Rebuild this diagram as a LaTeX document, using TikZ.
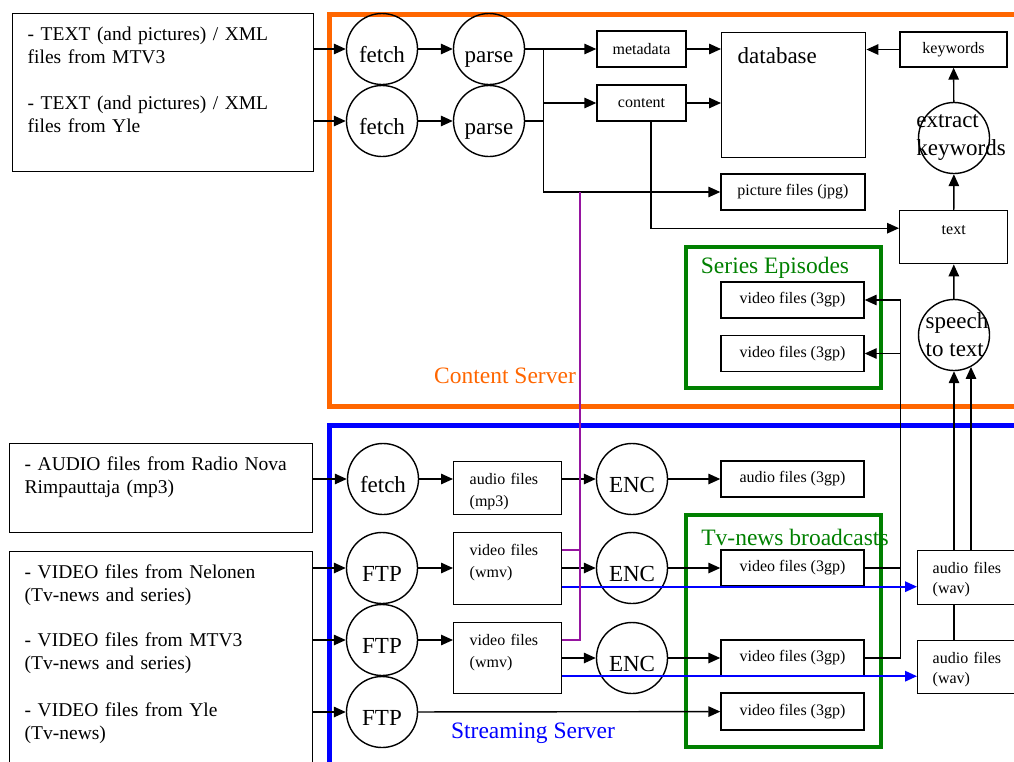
\documentclass[tikz,border=0pt]{standalone}
\usepackage{fontspec}
\setmainfont{Liberation Serif}
\usepackage{tikz}
\usetikzlibrary{arrows.meta, calc}

\definecolor{csorange}{RGB}{255,102,0}
\definecolor{ssblue}{RGB}{0,0,255}
\definecolor{grpgreen}{RGB}{0,128,0}
\definecolor{linkpurple}{RGB}{150,20,160}

\begin{document}
\begin{tikzpicture}[x=1pt, y=-1pt, line width=1.4pt,
    >={Triangle[length=12pt,width=10.5pt]},
    procfont/.style={font=\fontsize{23}{28}\selectfont},
    proc/.style={circle, draw, minimum size=71pt, inner sep=0pt, procfont,
        text height=26pt, text depth=0pt},
    filebox/.style={draw, minimum width=143pt, minimum height=36pt, inner sep=0pt,
        font=\fontsize{16}{20}\selectfont},
    topbox/.style={draw, anchor=north west, align=left, inner xsep=16pt, inner ysep=12pt,
        text height=11pt, font=\fontsize{16}{22}\selectfont},
    srcbox/.style={draw, anchor=north west, align=left, inner xsep=15pt, inner ysep=13pt,
        text height=13.5pt, font=\fontsize{19.5}{23}\selectfont},
    server/.style={line width=5pt},
    grpbox/.style={draw=grpgreen, line width=4pt},
    areatitle/.style={font=\fontsize{23.5}{27}\selectfont}]
    \useasboundingbox (0,0) rectangle (1014,761);
    \clip (0,0) rectangle (1014,761);

    % Servers
    \draw[server, csorange] (329.5,14) rectangle (1040,406.5);
    \node[areatitle, csorange] (cstitle) at (505,376) {Content Server};
    \draw[server, ssblue] (329.5,425) rectangle (1040,790);
    \node[areatitle, ssblue] (sstitle) at (533,733) {Streaming Server};

    % Groups of video files
    \draw[grpbox] (686,247) rectangle (881,388);
    \node[areatitle, grpgreen] (setitle) at (775,268) {Series Episodes};
    \draw[grpbox] (686,515) rectangle (881,747);
    \node[areatitle, grpgreen] (tvtitle) at (795,537) {Tv-news broadcasts};

    % Sources
    \node[srcbox, text width=271pt, text depth=118.5pt] (txtsrc) at (12,13)
        {- TEXT (and pictures) / XML\\files from MTV3\\[23pt]- TEXT (and pictures) / XML\\files from Yle};
    \node[srcbox, text width=273pt, text depth=49.5pt] (audsrc) at (9,443)
        {- AUDIO files from Radio Nova\\Rimpauttaja (mp3)};
    \node[srcbox, text width=273pt, text depth=184.5pt] (vidsrc) at (9,551)
        {- VIDEO files from Nelonen\\(Tv-news and series)\\[22pt]- VIDEO files from MTV3\\(Tv-news and series)\\[24pt]- VIDEO files from Yle\\(Tv-news)};

    % Content server
    \node[proc] (fetch1) at (382,49) {fetch};
    \node[proc] (fetch2) at (382,121) {fetch};
    \node[proc] (parse1) at (489,49) {parse};
    \node[proc] (parse2) at (489,121) {parse};
    \node[filebox, minimum width=89pt] (metadata) at (641.5,49) {metadata};
    \node[filebox, minimum width=89pt] (content) at (641.5,103) {content};
    \node[topbox, text width=112pt, inner ysep=14.7pt, text height=16pt, text depth=79.6pt,
        font=\fontsize{23}{27}\selectfont] (database) at (721,32) {database};
    \node[filebox, minimum width=107pt, minimum height=35pt] (keywords) at (953.5,49.5) {keywords};
    \node[proc, label={[procfont, align=left, xshift=7pt]center:extract\\keywords}]
        (extract) at (954,138) {};
    \node[filebox, minimum width=144pt] (picture) at (793,192) {picture files (jpg)};
    \node[topbox, align=center, text width=88pt, inner xsep=10pt, inner ysep=12.3pt,
        text depth=17.4pt] (textbox) at (899,210) {text};
    \node[proc, label={[procfont, align=left, xshift=3pt]center:speech\\to text}]
        (speech) at (954,335) {};
    \node[filebox] (se1) at (792.5,300) {video files (3gp)};
    \node[filebox] (se2) at (792.5,353.5) {video files (3gp)};

    % Streaming server
    \node[proc] (fetch3) at (383,479) {fetch};
    \node[topbox, text width=76pt, text depth=18pt] (mp3) at (453,461) {audio files\\(mp3)};
    \node[proc] (enc1) at (632,479) {ENC};
    \node[filebox] (aud3gp) at (792.5,479) {audio files (3gp)};
    \node[proc] (ftp1) at (382,568) {FTP};
    \node[proc] (ftp2) at (382,640) {FTP};
    \node[proc] (ftp3) at (382,712) {FTP};
    \node[topbox, text width=76pt, text depth=37pt] (wmv1) at (453,532) {video files\\(wmv)};
    \node[topbox, text width=76pt, text depth=36pt] (wmv2) at (453,622) {video files\\(wmv)};
    \node[proc] (enc2) at (632,568) {ENC};
    \node[proc] (enc3) at (632,658) {ENC};
    \node[filebox] (tv1) at (792.5,568) {video files (3gp)};
    \node[filebox] (tv2) at (792.5,658) {video files (3gp)};
    \node[filebox, minimum height=37pt] (tv3) at (792.5,711.5) {video files (3gp)};
    \node[topbox, inner xsep=15pt, text width=83pt, text depth=19pt,
        font=\fontsize{16}{20}\selectfont] (wav1) at (917,550) {audio files\\(wav)};
    \node[topbox, inner xsep=15pt, text width=83pt, text depth=18pt,
        font=\fontsize{16}{20}\selectfont] (wav2) at (917,640) {audio files\\(wav)};

    % Links in content server
    \draw[->] (txtsrc.east |- fetch1) -- (fetch1.west);
    \draw[->] (txtsrc.east |- fetch2) -- (fetch2.west);
    \draw[->] (fetch1) -- (parse1);
    \draw[->] (fetch2) -- (parse2);
    \coordinate (split) at ($(parse1.east)+(18.5,0)$);
    \draw[->] (parse1) -- (metadata);
    \draw (parse2.east) -- (parse2.east -| split);
    \draw[->] (split) |- (picture.west);
    \draw[->] (split |- content) -- (content.west);
    \draw[->] (metadata) -- (metadata -| database.west);
    \draw[->] (content) -- (content -| database.west);
    \draw[->] (keywords) -- (keywords -| database.east);
    \draw[->] (extract) -- (keywords);
    \draw[->] (textbox) -- (extract);
    \draw[->] (speech) -- (textbox);
    \draw[->] ($(content.south)+(9.5,0)$) |- ($(textbox.west)+(0,-9)$);

    % Links in streaming server
    \draw[->] (audsrc.east |- fetch3) -- (fetch3.west);
    \draw[->] (vidsrc.east |- ftp1) -- (ftp1.west);
    \draw[->] (vidsrc.east |- ftp2) -- (ftp2.west);
    \draw[->] (vidsrc.east |- ftp3) -- (ftp3.west);
    \draw[->] (fetch3) -- (fetch3 -| mp3.west);
    \draw[->] (enc1 -| mp3.east) -- (enc1);
    \draw[->] (enc1) -- (enc1 -| aud3gp.west);
    \draw[->] (ftp1) -- (ftp1 -| wmv1.west);
    \draw[->] (ftp2) -- (ftp2 -| wmv2.west);
    \draw[->] (enc2 -| wmv1.east) -- (enc2);
    \draw[->] (enc3 -| wmv2.east) -- (enc3);
    \draw[->] (enc2) -- (tv1);
    \draw[->] (enc3) -- (tv2);
    \draw[->] (ftp3) -- (tv3);

    % Series episodes fed back
    \coordinate (feed) at ($(se1.east)+(35.5,0)$);
    \draw (tv1) -- (tv1 -| feed);
    \draw[->] (tv2) -| (feed) -- (se1);
    \draw[->] (feed |- se2) -- (se2);

    % Audio to speech recognition
    \draw[->] (speech |- wav1.north) -- (speech);
    \draw[->] (speech.-62 |- wav1.north) -- (speech.-62);
    \draw (wav2.north -| speech) -- (wav1.south -| speech);
    \coordinate (wavin1) at ($(wmv1.east)+(0,18)$);
    \coordinate (wavin2) at ($(wmv2.east)+(0,18)$);
    \draw[->, ssblue, line width=1.6pt] (wavin1) -- (wavin1 -| wav1.west);
    \draw[->, ssblue, line width=1.6pt] (wavin2) -- (wavin2 -| wav2.west);

    % Pictures link
    \coordinate (tap) at ($(split |- picture)+(36.5,0)$);
    \draw[linkpurple, line width=1.5pt] ($(wmv1.north east)+(0,18)$) -| (tap);
    \draw[linkpurple, line width=1.5pt] (tap) |- ($(wmv2.north east)+(0,18)$);
\end{tikzpicture}
\end{document}
